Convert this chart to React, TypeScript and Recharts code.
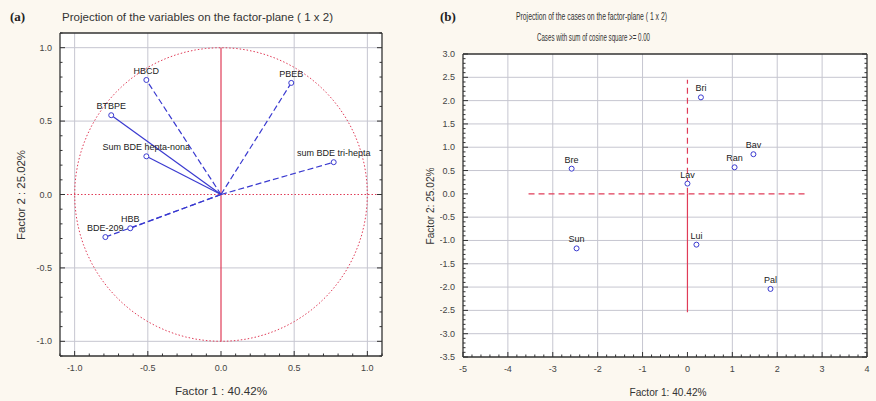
import { ScatterChart, Scatter, XAxis, YAxis, ReferenceLine, CartesianGrid } from 'recharts';

// (a) loadings of the variables on factor 1 / factor 2
const variableNames = ['HBCD', 'PBEB', 'BTBPE', 'Sum BDE hepta-nona', 'sum BDE tri-hepta', 'BDE-209', 'HBB'];
const variableFactor1 = [-0.51, 0.48, -0.75, -0.51, 0.77, -0.79, -0.62];
const variableFactor2 = [0.78, 0.76, 0.54, 0.26, 0.22, -0.29, -0.23];

// (b) case scores
const caseNames = ['Bri', 'Bav', 'Ran', 'Bre', 'Lav', 'Sun', 'Lui', 'Pal'];
const caseFactor1 = [0.3, 1.47, 1.05, -2.58, 0.0, -2.47, 0.2, 1.85];
const caseFactor2 = [2.07, 0.85, 0.57, 0.54, 0.22, -1.17, -1.09, -2.04];

const loadingTicks = [-1.0, -0.5, 0.0, 0.5, 1.0];
const caseXTicks = [-5, -4, -3, -2, -1, 0, 1, 2, 3, 4];
const caseYTicks = [-3.5, -3.0, -2.5, -2.0, -1.5, -1.0, -0.5, 0.0, 0.5, 1.0, 1.5, 2.0, 2.5, 3.0];

const solidVectors = ['BTBPE', 'Sum BDE hepta-nona'];

const FONT = '"Liberation Sans", Arial, sans-serif';
const BLUE = '#3a3ad0';
const RED = '#e03c58';
const GRID = '#c6c6d0';

function range(from: number, to: number, step: number) {
  const out: number[] = [];
  const n = Math.round((to - from) / step);
  for (let i = 0; i <= n; i++) out.push(+(from + i * step).toFixed(4));
  return out;
}

const loadingMinor = range(-1.1, 1.1, 0.1);
const caseXMinor = range(-5, 4, 0.2);
const caseYMinor = range(-3.5, 3, 0.1);

// unit correlation circle
const unitCircle = range(0, 360, 4).map((d) => ({
  x: Math.cos((d * Math.PI) / 180),
  y: Math.sin((d * Math.PI) / 180),
}));

const vectors = variableNames.map((name, i) => [
  { x: 0, y: 0 },
  { x: variableFactor1[i], y: variableFactor2[i], name },
]);
const cases = caseNames.map((name, i) => ({ x: caseFactor1[i], y: caseFactor2[i], name }));

function FrameTick(props: any) {
  const { x, y, payload, side, majors, digits, showLabel } = props;
  const v = payload.value;
  const major = majors.some((m: number) => Math.abs(m - v) < 1e-6);
  const len = major ? 5 : 2.5;
  let line = null;
  if (side === 'bottom') line = <line x1={x} x2={x} y1={y} y2={y - len} />;
  if (side === 'top') line = <line x1={x} x2={x} y1={y} y2={y + len} />;
  if (side === 'left') line = <line x1={x} x2={x + len} y1={y} y2={y} />;
  if (side === 'right') line = <line x1={x} x2={x - len} y1={y} y2={y} />;
  let text = null;
  if (showLabel && major) {
    const s = Number(v).toFixed(digits);
    text =
      side === 'bottom' ? (
        <text x={x} y={y + 15} textAnchor="middle" fontSize={9} fill="#444" stroke="none" fontFamily={FONT}>{s}</text>
      ) : (
        <text x={x - 8} y={y + 3} textAnchor="end" fontSize={9} fill="#444" stroke="none" fontFamily={FONT}>{s}</text>
      );
  }
  return (
    <g stroke="#333" strokeWidth={1}>
      {line}
      {text}
    </g>
  );
}

const vectorShape = (props: any) => {
  const { cx, cy, payload } = props;
  if (!payload || !payload.name) return <g />;
  return (
    <g>
      <circle cx={cx} cy={cy} r={2.5} fill="#fff" stroke={BLUE} strokeWidth={1} />
      <text x={cx} y={cy - 6} textAnchor="middle" fontSize={9} fill="#222" fontFamily={FONT}>{payload.name}</text>
    </g>
  );
};

const caseShape = (props: any) => {
  const { cx, cy, payload } = props;
  return (
    <g>
      <circle cx={cx} cy={cy} r={2.5} fill="#fff" stroke={BLUE} strokeWidth={1} />
      <text x={cx} y={cy - 6} textAnchor="middle" fontSize={9} fill="#222" fontFamily={FONT}>{payload.name}</text>
    </g>
  );
};

const noShape = () => <g />;

function frameAxes(xDom: number[], yDom: number[], xMinor: number[], yMinor: number[], xMaj: number[], yMaj: number[], xDigits: number, yDigits: number) {
  const axisLine = { stroke: '#333', strokeWidth: 1.3 };
  const common = { type: 'number' as const, tickSize: 0, tickMargin: 0, interval: 0 as const, allowDataOverflow: true, axisLine };
  return [
    <XAxis key="xb" dataKey="x" {...common} domain={xDom} ticks={xMinor} height={1}
      tick={(p: any) => <FrameTick {...p} side="bottom" majors={xMaj} digits={xDigits} showLabel />} />,
    <XAxis key="xt" xAxisId="top" orientation="top" {...common} domain={xDom} ticks={xMinor} height={1}
      tick={(p: any) => <FrameTick {...p} side="top" majors={xMaj} digits={xDigits} />} />,
    <YAxis key="yl" dataKey="y" {...common} domain={yDom} ticks={yMinor} width={1}
      tick={(p: any) => <FrameTick {...p} side="left" majors={yMaj} digits={yDigits} showLabel />} />,
    <YAxis key="yr" yAxisId="right" orientation="right" {...common} domain={yDom} ticks={yMinor} width={1}
      tick={(p: any) => <FrameTick {...p} side="right" majors={yMaj} digits={yDigits} />} />,
  ];
}

export default function App() {
  return (
    <div style={{ position: 'absolute', left: 0, top: 0, width: 876, height: 401, background: '#fcf8f0', fontFamily: FONT }}>
      <div style={{ position: 'absolute', left: 0, top: 0 }}>
        <ScatterChart width={440} height={401} margin={{ top: 32, right: 57, bottom: 44, left: 59 }}>
          <CartesianGrid fill="#fff" horizontal={false} vertical={false} />
          {frameAxes([-1.1, 1.1], [-1.1, 1.1], loadingMinor, loadingMinor, loadingTicks, loadingTicks, 1, 1)}
          {loadingTicks.filter((t) => t !== 0).map((t) => (
            <ReferenceLine key={'gx' + t} x={t} stroke={GRID} strokeWidth={1} ifOverflow="extendDomain" />
          ))}
          {loadingTicks.filter((t) => t !== 0).map((t) => (
            <ReferenceLine key={'gy' + t} y={t} stroke={GRID} strokeWidth={1} ifOverflow="extendDomain" />
          ))}
          <ReferenceLine y={0} stroke={RED} strokeDasharray="1.5 2" />
          <ReferenceLine segment={[{ x: 0, y: -1 }, { x: 0, y: 1 }]} stroke={RED} strokeWidth={1.2} />
          <Scatter data={unitCircle} line={{ stroke: RED, strokeDasharray: '1.5 2', strokeWidth: 1 }} shape={noShape} isAnimationActive={false} legendType="none" />
          {vectors.map((d, i) => (
            <Scatter
              key={variableNames[i]}
              data={d}
              line={{
                stroke: BLUE,
                strokeWidth: 1.2,
                strokeDasharray: solidVectors.includes(variableNames[i]) ? undefined : '6 3',
              }}
              shape={vectorShape}
              isAnimationActive={false}
              legendType="none"
            />
          ))}
        </ScatterChart>
      </div>
      <div style={{ position: 'absolute', left: 440, top: 0 }}>
        <ScatterChart width={436} height={401} margin={{ top: 53, right: 8, bottom: 43, left: 22 }}>
          <CartesianGrid fill="#fff" horizontal={false} vertical={false} />
          {frameAxes([-5, 4], [-3.5, 3], caseXMinor, caseYMinor, caseXTicks, caseYTicks, 0, 1)}
          {caseXTicks.slice(1, -1).filter((t) => t !== 0).map((t) => (
            <ReferenceLine key={'gx' + t} x={t} stroke={GRID} strokeWidth={1} ifOverflow="extendDomain" />
          ))}
          {caseYTicks.slice(1, -1).filter((t) => t !== 0).map((t) => (
            <ReferenceLine key={'gy' + t} y={t} stroke={GRID} strokeWidth={1} ifOverflow="extendDomain" />
          ))}
          <ReferenceLine segment={[{ x: -3.54, y: 0 }, { x: 2.63, y: 0 }]} stroke={RED} strokeWidth={1.2} strokeDasharray="6 4" />
          <ReferenceLine segment={[{ x: 0, y: 0 }, { x: 0, y: 2.45 }]} stroke={RED} strokeWidth={1.2} strokeDasharray="6 4" />
          <ReferenceLine segment={[{ x: 0, y: -2.54 }, { x: 0, y: 0 }]} stroke={RED} strokeWidth={1.2} />
          <Scatter data={cases} shape={caseShape} isAnimationActive={false} legendType="none" />
        </ScatterChart>
      </div>
      <svg width={876} height={401} style={{ position: 'absolute', left: 0, top: 0, pointerEvents: 'none' }}>
        <text x={10} y={21} fontFamily='"Liberation Serif", serif' fontWeight="bold" fontSize={13} fill="#222">(a)</text>
        <text x={62} y={21} fontSize={10} fill="#333" textLength={271} lengthAdjust="spacingAndGlyphs">
          Projection of the variables on the factor-plane ( 1 x 2)
        </text>
        <text x={440} y={21} fontFamily='"Liberation Serif", serif' fontWeight="bold" fontSize={13} fill="#222">(b)</text>
        <text x={516} y={20} fontSize={10.5} fill="#333" textLength={151} lengthAdjust="spacingAndGlyphs">
          Projection of the cases on the factor-plane ( 1 x 2)
        </text>
        <text x={537} y={41} fontSize={10.5} fill="#333" textLength={113} lengthAdjust="spacingAndGlyphs">
          Cases with sum of cosine square &gt;= 0.00
        </text>
        <text x={221} y={395} textAnchor="middle" fontSize={10} fill="#333" textLength={92} lengthAdjust="spacingAndGlyphs">
          Factor 1 : 40.42%
        </text>
        <text transform="translate(25,195) rotate(-90)" textAnchor="middle" fontSize={10} fill="#333" textLength={90} lengthAdjust="spacingAndGlyphs">
          Factor 2 : 25.02%
        </text>
        <text x={668} y={396} textAnchor="middle" fontSize={10} fill="#333" textLength={77} lengthAdjust="spacingAndGlyphs">
          Factor 1: 40.42%
        </text>
        <text transform="translate(434,206) rotate(-90)" textAnchor="middle" fontSize={10} fill="#333" textLength={77} lengthAdjust="spacingAndGlyphs">
          Factor 2: 25.02%
        </text>
      </svg>
    </div>
  );
}
